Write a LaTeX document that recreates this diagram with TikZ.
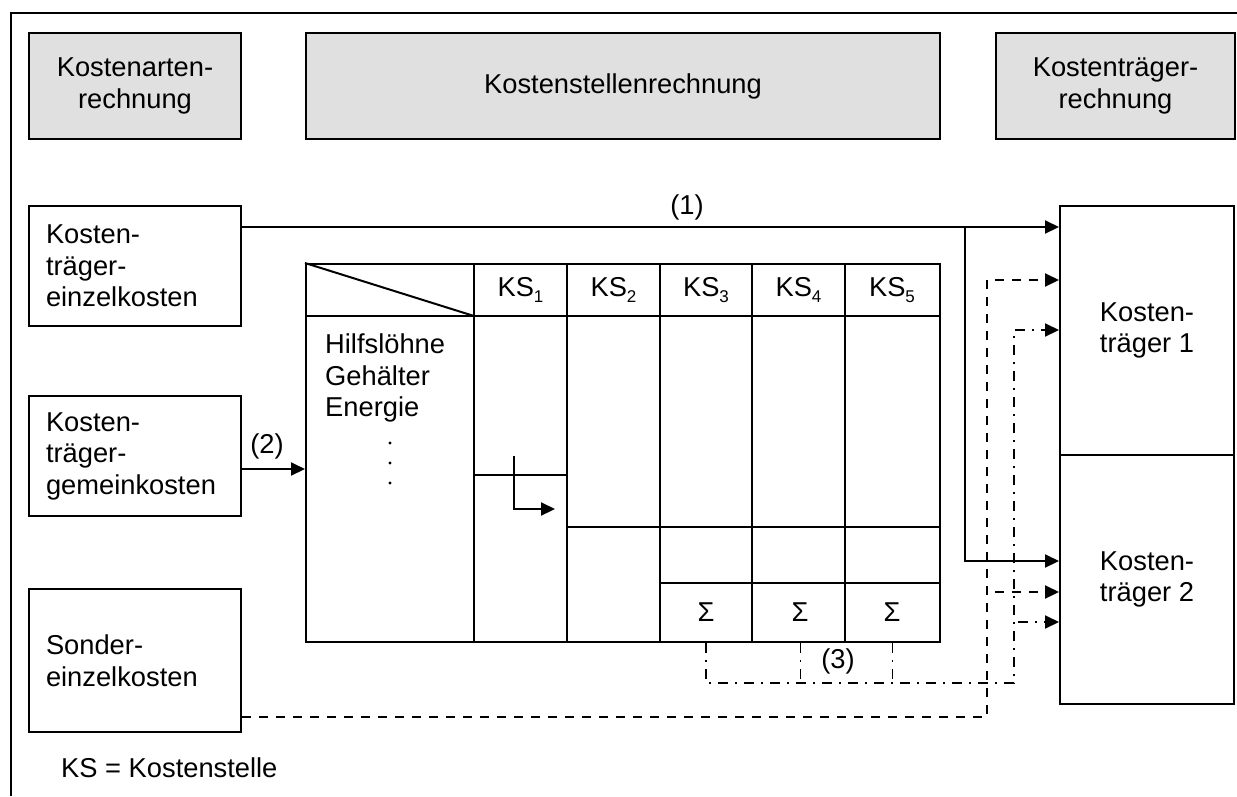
\documentclass[tikz,border=0pt]{standalone}
\usepackage{fontspec}
\setmainfont{Liberation Sans}
\usetikzlibrary{arrows.meta,calc}
\definecolor{boxgray}{RGB}{224,224,224}
\newcommand{\kssub}[1]{KS\raisebox{-6pt}{\fontsize{17}{17}\selectfont #1}}
\begin{document}
\begin{tikzpicture}[x=1pt,y=-1pt,
  lw/.style={line width=2pt},
  every node/.style={font=\fontsize{27.3}{31.5}\selectfont},
  hdr/.style={draw,lw,fill=boxgray,anchor=north west,inner sep=0pt,align=center},
  srcbox/.style={draw,lw,anchor=north west,inner sep=0pt,inner xsep=17pt,align=left,
                 minimum width=212pt,text width=178pt},
  tbox/.style={draw,lw,anchor=north west,inner sep=0pt,align=left,minimum width=174pt},
  cell/.style={inner sep=0pt},
  arr/.style={lw,-{Triangle[length=14pt,width=13pt]}},
  dsh/.style={dash pattern=on 9pt off 8pt},
  dd/.style={dash pattern=on 10pt off 7pt on 2pt off 7pt},
]
\useasboundingbox (0,0) rectangle (1237,796);
\fill[white] (0,0) rectangle (1237,796);

% outer frame (only top and left edges lie inside the page)
\draw[lw] (11,796) -- (11,13) -- (1237,13);

% headings
\node[hdr,minimum width=212pt,minimum height=106pt] (hart) at (28,32) {Kostenarten-\\rechnung};
\node[hdr,minimum width=634pt,minimum height=106pt] (hstel) at (305,32) {Kostenstellenrechnung};
\node[hdr,minimum width=239pt,minimum height=106pt] (htr) at (995,32) {Kostenträger-\\rechnung};

% cost categories
\node[srcbox,minimum height=120pt] (einzel) at (28,205) {Kosten-\\träger-\\einzelkosten};
\node[srcbox,minimum height=120pt] (gemein) at (28,395) {Kosten-\\träger-\\gemeinkosten};
\node[srcbox,minimum height=143pt] (sonder) at (28,588) {Sonder-\\einzelkosten};

% cost objects
\node[tbox,minimum height=249pt] (kt1) at (1059,205) {Kosten-\\träger 1};
\node[tbox,minimum height=249pt] (kt2) at (1059,454) {Kosten-\\träger 2};

% cost centre sheet
\node[draw,lw,anchor=north west,inner sep=0pt,minimum width=634pt,minimum height=378pt] (tab) at (305,263) {};
\draw[lw] (305,316) -- (939,316);
\foreach \x in {474,567,660,752,845} \draw[lw] (\x,263) -- (\x,641);
\draw[lw] (305,263) -- (474,316);
\draw[lw] (474,475) -- (567,475);
\draw[lw] (567,527) -- (939,527);
\draw[lw] (660,583) -- (939,583);

\node[cell] (k1) at (520.5,290) {\kssub{1}};
\node[cell] (k2) at (613.5,290) {\kssub{2}};
\node[cell] (k3) at (706,290) {\kssub{3}};
\node[cell] (k4) at (798.5,290) {\kssub{4}};
\node[cell] (k5) at (892,290) {\kssub{5}};

\node[cell,anchor=north west,align=left] (kinds) at (325,334) {Hilfslöhne\\Gehälter\\Energie};
\foreach \y in {443,463,483} \fill (390,\y) circle (1.6);

\node[cell] (s3) at (706,612) {Σ};
\node[cell] (s4) at (800,612) {Σ};
\node[cell] (s5) at (892,612) {Σ};

% allocation inside the sheet
\coordinate (ia) at (514,456);
\coordinate (ib) at (555,509);
\draw[arr] (ia) |- (ib);

% (1) direct costs
\draw[arr] (einzel.east |- 0,227) -- (kt1.west |- 0,227);
\coordinate (j1) at (965,227);
\draw[arr] (j1) |- (kt2.west |- 0,561);
\node[cell] (l1) at (687,207) {(1)};

% (2) overheads into the sheet
\draw[arr] (gemein.east |- 0,469) -- (tab.west |- 0,469);
\node[cell] (l2) at (267,446) {(2)};

% special direct costs
\draw[arr,dsh] (sonder.east |- 0,717) -| (987,280) -- (kt1.west |- 0,280);
\coordinate (dj) at (987,592);
\draw[arr,dsh,dash phase=9pt] (dj) -- (kt2.west |- 0,592);

% (3) cost centre totals
\draw[arr,dd] (s3 |- tab.south) |- (1014,683) -- (1014,330) -- (kt1.west |- 0,330);
\draw[dd] (s4 |- tab.south) -- (s4 |- 0,683);
\draw[dd] (s5 |- tab.south) -- (s5 |- 0,683);
\coordinate (ddj) at (1014,622);
\draw[arr,dd,dash phase=-4pt] (ddj) -- (kt2.west |- 0,622);
\node[cell] (l3) at (838,661) {(3)};

% legend
\node[cell,anchor=west] (leg) at (61,768) {KS = Kostenstelle};
\end{tikzpicture}
\end{document}
